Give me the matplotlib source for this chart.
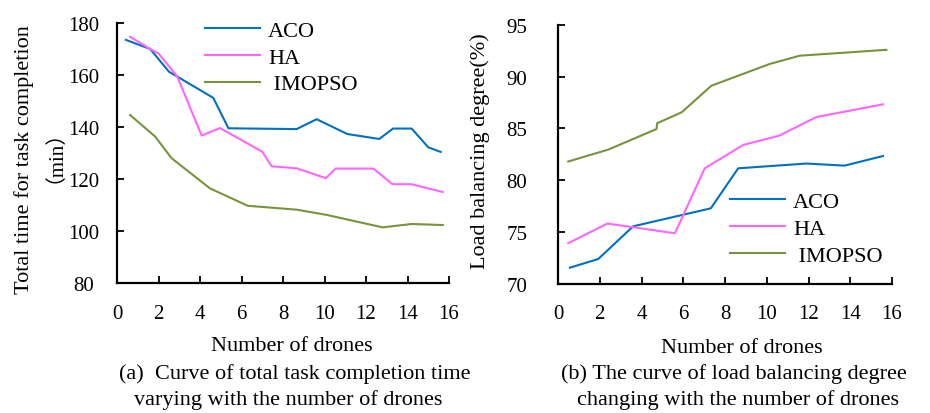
import matplotlib
matplotlib.use("Agg")
import matplotlib.pyplot as plt

plt.rcParams['font.family'] = ['Liberation Serif', 'Noto Sans CJK SC', 'DejaVu Sans']

# ---- data (a): total task completion time ----
a_aco_x = [0.43, 1.6, 2.5, 4.64, 5.37, 8.66, 9.62, 11.1, 12.64, 13.3, 14.2, 15.0, 15.6]
a_aco_y = [173.5, 170.0, 161.3, 151.2, 139.5, 139.2, 143.0, 137.3, 135.4, 139.4, 139.4, 132.2, 130.4]
a_ha_x = [0.63, 1.6, 2.0, 2.9, 4.08, 4.96, 7.0, 7.45, 8.66, 10.07, 10.54, 12.36, 13.27, 14.18, 15.08, 15.7]
a_ha_y = [174.7, 170.0, 168.3, 159.5, 136.7, 139.6, 130.5, 124.9, 124.1, 120.3, 124.0, 124.0, 118.0, 118.0, 116.2, 115.0]
a_imo_x = [0.63, 1.83, 2.63, 4.48, 6.3, 8.66, 10.1, 12.8, 14.2, 15.7]
a_imo_y = [144.6, 136.4, 128.0, 116.4, 109.7, 108.2, 106.2, 101.4, 102.7, 102.3]

# ---- data (b): load balancing degree ----
b_aco_x = [0.57, 1.93, 3.6, 7.32, 8.63, 11.9, 13.73, 15.57]
b_aco_y = [71.53, 72.37, 75.53, 77.27, 81.14, 81.6, 81.4, 82.33]
b_ha_x = [0.49, 2.36, 5.6, 7.03, 8.87, 10.6, 12.38, 15.57]
b_ha_y = [73.9, 75.8, 74.86, 81.14, 83.4, 84.3, 86.1, 87.33]
b_imo_x = [0.49, 2.41, 4.72, 4.75, 5.92, 7.35, 10.14, 11.58, 15.73]
b_imo_y = [81.8, 82.95, 84.94, 85.5, 86.55, 89.13, 91.23, 92.03, 92.6]

series_names = ['ACO', 'HA', ' IMOPSO']
colors = ['#0070C0', '#FF66FF', '#77933C']
x_ticks = [0, 2, 4, 6, 8, 10, 12, 14, 16]
a_yticks = [80, 100, 120, 140, 160, 180]
b_yticks = [70, 75, 80, 85, 90, 95]

fig = plt.figure(figsize=(9.3, 4.14), dpi=100)
ax1 = fig.add_axes([117/930, 1-284/414, 332/930, 260/414])
ax2 = fig.add_axes([558/930, 1-284.5/414, 334/930, 258.5/414])

lw = 1.5
for ax, data in [(ax1, [(a_aco_x, a_aco_y), (a_ha_x, a_ha_y), (a_imo_x, a_imo_y)]),
                 (ax2, [(b_aco_x, b_aco_y), (b_ha_x, b_ha_y), (b_imo_x, b_imo_y)])]:
    for (xs, ys), c, n in zip(data, colors, series_names):
        ax.plot(xs, ys, color=c, lw=lw, label=n)
    ax.set_xlim(0, 16)
    ax.set_xticks(x_ticks)
    for s in ['top', 'right']:
        ax.spines[s].set_visible(False)
    for s in ['left', 'bottom']:
        ax.spines[s].set_linewidth(1.6)
    ax.tick_params(axis='both', direction='in', length=5, width=1.3, labelsize=15)
    ax.tick_params(axis='x', pad=15)

ax1.set_ylim(80, 180)
ax1.set_yticks(a_yticks)
ax1.tick_params(axis='y', pad=24)
for lab in ax1.get_yticklabels():
    lab.set_horizontalalignment('center')

ax2.set_ylim(70, 95)
ax2.set_yticks(b_yticks)
ax2.tick_params(axis='y', pad=22)

leg_kw = dict(frameon=False, fontsize=16, handlelength=2.5, handletextpad=0.35,
              labelspacing=0.28, borderaxespad=0)
ax1.legend(loc='upper left', bbox_to_anchor=(79/332, 1.045), **leg_kw)
ax2.legend(loc='upper left', bbox_to_anchor=(163/334, 0.39), **leg_kw)

fig.text(24/930, 1-160/414, 'Total time for task completion', rotation=90,
         ha='center', va='center', fontsize=16)
fig.text(45/930, 1-146/414, '（min）', rotation=90,
         ha='center', va='center', fontsize=15)
fig.text(480/930, 1-151/414, 'Load balancing degree(%)', rotation=90,
         ha='center', va='center', fontsize=16)

fig.text(292/930, 1-347/414, 'Number of drones', ha='center', va='center', fontsize=16)
fig.text(742/930, 1-349/414, 'Number of drones', ha='center', va='center', fontsize=16)
fig.text(295/930, 1-374/414, '(a)  Curve of total task completion time', ha='center', va='center', fontsize=16)
fig.text(288/930, 1-400/414, 'varying with the number of drones', ha='center', va='center', fontsize=16)
fig.text(734/930, 1-374/414, '(b) The curve of load balancing degree', ha='center', va='center', fontsize=16)
fig.text(738/930, 1-400/414, 'changing with the number of drones', ha='center', va='center', fontsize=16)

fig.savefig('out.png', dpi=100)
